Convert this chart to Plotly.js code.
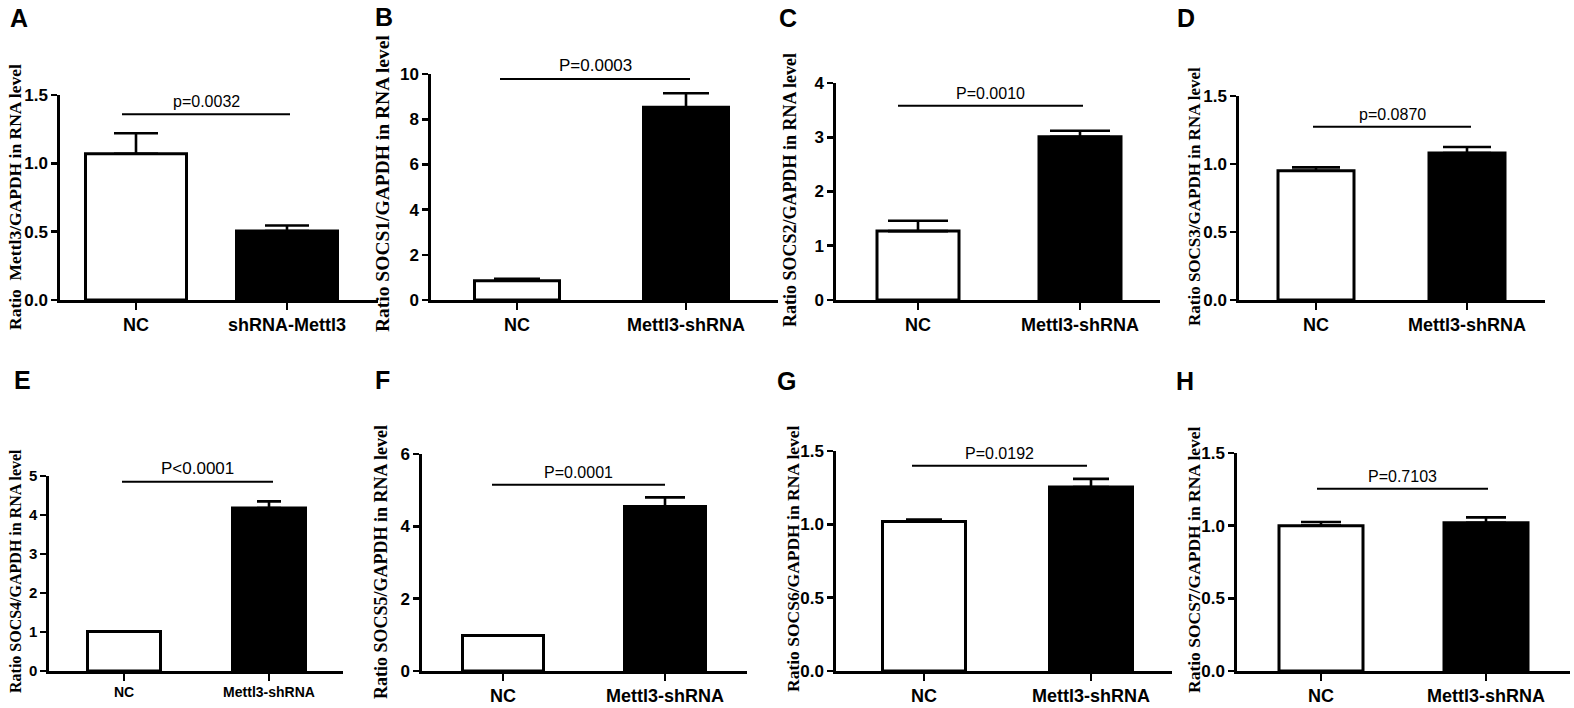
<!DOCTYPE html>
<html><head><meta charset="utf-8">
<script src="https://cdn.plot.ly/plotly-3.0.1.min.js"></script>
<style>html,body{margin:0;padding:0;background:#fff;}#chart{width:1574px;height:708px;}</style>
</head><body><div id="chart"></div>
<script>
// ---------- data ----------
const panelLetters = ["A","B","C","D","E","F","G","H"];
const categoriesA = ["NC","shRNA-Mettl3"];
const categoriesOther = ["NC","Mettl3-shRNA"];
const yTitles = [
  "Ratio&nbsp; Mettl3/GAPDH in RNA level",
  "Ratio SOCS1/GAPDH in RNA level",
  "Ratio SOCS2/GAPDH in RNA level",
  "Ratio SOCS3/GAPDH in RNA level",
  "Ratio SOCS4/GAPDH in RNA level",
  "Ratio SOCS5/GAPDH in RNA level",
  "Ratio SOCS6/GAPDH in RNA level",
  "Ratio SOCS7/GAPDH in RNA level"
];
const meanNC = [1.07, 0.85, 1.27, 0.95, 1.01, 0.98, 1.02, 1.00];
const meanKD = [0.505, 8.53, 3.01, 1.08, 4.18, 4.55, 1.255, 1.02];
const errNC  = [0.15, 0.09, 0.19, 0.025, 0.01, 0.01, 0.013, 0.025];
const errKD  = [0.04, 0.62, 0.11, 0.045, 0.17, 0.25, 0.055, 0.037];
const sigLevel = [1.36, 9.78, 3.58, 1.274, 4.85, 5.15, 1.40, 1.254];
const pLabels = ["p=0.0032","P=0.0003","P=0.0010","p=0.0870","P<0.0001","P=0.0001","P=0.0192","P=0.7103"];
const yMax  = [1.5, 10, 4, 1.5, 5, 6, 1.5, 1.5];
const yStep = [0.5, 2, 1, 0.5, 1, 2, 0.5, 0.5];
const yFormat = [".1f", "", "", ".1f", "", "", ".1f", ".1f"];

// ---------- layout geometry (pixels) ----------
// [axisLeft, axisRight, tick0, tick1, plotTop, plotBottom]
const geom = [
  [60, 378, 136, 287, 95, 300],
  [431, 778, 517, 686, 74, 300],
  [836, 1160, 918, 1080, 83, 300],
  [1239, 1545, 1316, 1467, 96, 300],
  [49, 343, 124, 269, 476, 671],
  [422, 747, 503, 665, 454, 671],
  [836, 1172, 924, 1091, 451, 671],
  [1237, 1570, 1321, 1486, 453, 671]
];
const barPx = [101, 85, 82, 76, 73, 81, 83, 84];
const capPx = [22, 23, 30, 24, 12, 20, 18, 20];
const sigOffPx = [[-14, 3], [-17, 4], [-20, 3], [-3, 4], [-2, 4], [-11, 0], [-12, -4], [-4, 2]];
const titlePos = [[15, 197, 17.5], [382, 184, 19.5], [790, 190, 18], [1194, 197, 17], [15, 571, 16], [381, 562, 18], [793, 559, 17.5], [1194, 560, 17.5]];
const letterPos = [[19, 18], [384, 17], [788, 18], [1186, 18], [22, 380], [382, 380], [786, 381], [1185, 381]];
const tickFontY = [17, 17, 17, 17, 15, 17, 17, 17];
const tickFontX = [18, 18, 18, 18, 14, 18, 18, 18];
const pFont = [16, 17, 16, 16, 17, 16, 16, 16];

const W = 1574, H = 708;
const traces = [];
const layout = {
  width: W, height: H,
  margin: {l: 0, r: 0, t: 0, b: 0},
  paper_bgcolor: "#fff", plot_bgcolor: "#fff",
  showlegend: false,
  shapes: [], annotations: []
};

for (let i = 0; i < 8; i++) {
  const sfx = i === 0 ? "" : String(i + 1);
  const xa = "x" + sfx, ya = "y" + sfx;
  const g = geom[i];
  const sp = g[3] - g[2];
  const cats = i === 0 ? categoriesA : categoriesOther;
  const bw = barPx[i] / sp;
  const common = {type: "bar", xaxis: xa, yaxis: ya, width: bw, hoverinfo: "skip"};
  traces.push(Object.assign({}, common, {
    x: [cats[0]], y: [meanNC[i]],
    marker: {color: "#ffffff", line: {color: "#000", width: 3}},
    error_y: {type: "data", symmetric: false, array: [errNC[i]], arrayminus: [0], color: "#000", thickness: 2.6, width: capPx[i]}
  }));
  traces.push(Object.assign({}, common, {
    x: [cats[1]], y: [meanKD[i]],
    marker: {color: "#000000", line: {color: "#000", width: 3}},
    error_y: {type: "data", symmetric: false, array: [errKD[i]], arrayminus: [0], color: "#000", thickness: 2.6, width: capPx[i]}
  }));
  const xr = [-(g[2] - g[0]) / sp, 1 + (g[1] - g[3]) / sp];
  layout["xaxis" + sfx] = {
    domain: [g[0] / W, g[1] / W], range: xr, type: "category",
    anchor: ya, showline: true, linecolor: "#000", linewidth: 2.6,
    ticks: "outside", ticklen: 7, tickwidth: 2.6, tickcolor: "#000",
    showgrid: false, zeroline: false, fixedrange: true,
    tickfont: {family: "Liberation Sans, Arial", size: tickFontX[i], color: "#000", weight: "bold"}
  };
  layout["yaxis" + sfx] = {
    domain: [1 - g[5] / H, 1 - g[4] / H], range: [0, yMax[i]],
    anchor: xa, showline: true, linecolor: "#000", linewidth: 2.6,
    ticks: "outside", ticklen: 6, tickwidth: 2.6, tickcolor: "#000",
    dtick: yStep[i], tick0: 0, tickformat: yFormat[i],
    showgrid: false, zeroline: false, fixedrange: true,
    tickfont: {family: "Liberation Sans, Arial", size: tickFontY[i], color: "#000", weight: "bold"}
  };
  const sx0 = sigOffPx[i][0] / sp, sx1 = 1 + sigOffPx[i][1] / sp;
  layout.shapes.push({type: "line", xref: xa, yref: ya, x0: sx0, x1: sx1, y0: sigLevel[i], y1: sigLevel[i], line: {color: "#000", width: 2}});
  layout.annotations.push({
    xref: xa, yref: ya, x: (sx0 + sx1) / 2, y: sigLevel[i], yanchor: "bottom", yshift: 2,
    text: pLabels[i], showarrow: false,
    font: {family: "Liberation Sans, Arial", size: pFont[i], color: "#000"}
  });
  layout.annotations.push({
    xref: "paper", yref: "paper", x: titlePos[i][0] / W, y: 1 - titlePos[i][1] / H,
    xanchor: "center", yanchor: "middle", textangle: -90,
    text: yTitles[i], showarrow: false,
    font: {family: "Liberation Serif, Times New Roman", size: titlePos[i][2], color: "#000", weight: "bold"}
  });
  layout.annotations.push({
    xref: "paper", yref: "paper", x: letterPos[i][0] / W, y: 1 - letterPos[i][1] / H,
    xanchor: "center", yanchor: "middle",
    text: panelLetters[i], showarrow: false,
    font: {family: "Liberation Sans, Arial", size: 25, color: "#000", weight: "bold"}
  });
}

Plotly.newPlot("chart", traces, layout, {displayModeBar: false, staticPlot: true});
</script>
</body></html>
